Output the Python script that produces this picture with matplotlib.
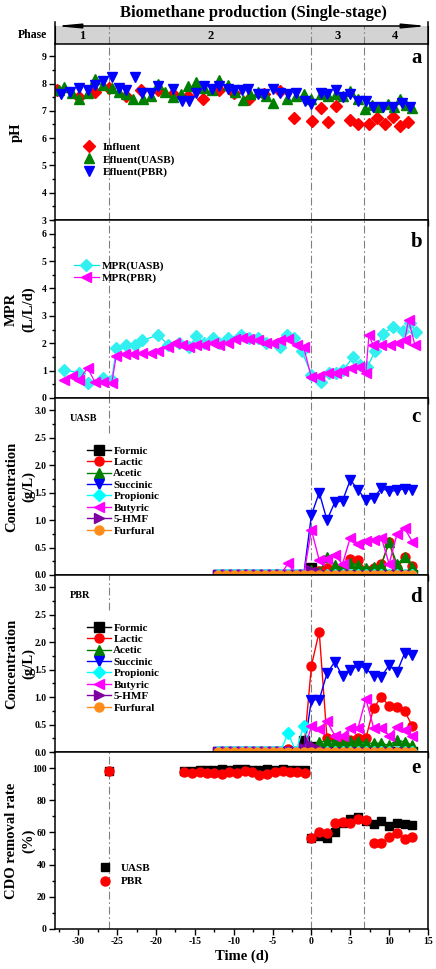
import numpy as np
import matplotlib.pyplot as plt
from matplotlib.ticker import MultipleLocator

plt.rcParams['font.family'] = ['Liberation Serif', 'DejaVu Serif']
plt.rcParams['font.weight'] = 'bold'
plt.rcParams['axes.labelweight'] = 'bold'
plt.rcParams['axes.unicode_minus'] = False

# ---- data ----
phase_bounds = [-26, 0, 6.7]
phase_names = ['1', '2', '3', '4']
phase_centers = [-29.5, -13, 3.35, 10.8]

# pH
ph_inf_day = [-32.8, -29.9, -27.9, -26.0, -23.8, -21.9, -19.7, -17.8, -15.9, -14.0, -11.9, -10.0, -8.0, -6.1,
              -4.0, -2.2, 0.1, 1.2, 2.1, 3.1, 5.0, 6.0, 7.4, 8.4, 9.5, 10.5, 11.4, 12.4]
ph_inf = [7.76, 7.5, 7.7, 7.83, 7.55, 7.75, 7.75, 7.6, 7.55, 7.45, 7.75, 7.65, 7.45, 7.6,
          7.72, 6.75, 6.62, 7.12, 6.6, 7.18, 6.68, 6.52, 6.5, 6.72, 6.5, 6.76, 6.45, 6.6]
ph_uasb_day = [-32.5, -31.8, -30.8, -29.9, -28.8, -27.9, -26.8, -25.7, -24.7, -23.8, -22.9, -21.7, -20.7, -19.7,
               -18.8, -17.8, -16.8, -15.9, -14.9, -13.8, -12.8, -11.9, -10.8, -9.9, -8.8, -7.9, -6.9, -5.9,
               -4.9, -3.1, -2.0, -1.0, 0.0, 1.2, 2.1, 3.1, 4.1, 5.0, 6.0, 6.9, 7.8, 8.6, 9.9, 10.6, 11.4, 12.2, 12.9]
ph_uasb = [7.75, 7.87, 7.65, 7.45, 7.65, 8.15, 7.95, 7.85, 7.7, 7.6, 7.45, 7.45, 7.55, 8.0,
           7.7, 7.5, 7.6, 7.9, 8.05, 7.85, 7.75, 8.12, 7.95, 7.7, 7.4, 7.6, 7.7, 7.55,
           7.3, 7.45, 7.55, 7.6, 7.45, 7.62, 7.55, 7.6, 7.55, 7.72, 7.45, 7.05, 7.2, 7.15, 7.25, 7.15, 7.45, 7.2, 7.1]
ph_pbr_day = [-32.2, -31.1, -29.9, -28.8, -27.9, -26.8, -25.7, -24.7, -23.8, -22.7, -21.8, -20.7, -19.7, -17.8,
              -16.7, -15.8, -14.9, -13.8, -12.8, -11.9, -10.8, -10.0, -8.9, -8.1, -6.9, -6.1, -4.9, -4.1,
              -3.0, -2.0, -0.8, 0.0, 1.2, 2.0, 3.1, 4.1, 5.0, 6.0, 7.0, 7.9, 9.2, 10.5, 11.6, 12.7]
ph_pbr = [7.6, 7.7, 7.85, 7.75, 7.95, 8.1, 8.25, 7.85, 7.75, 8.25, 7.65, 7.65, 7.9, 7.8,
          7.35, 7.35, 7.65, 7.9, 7.8, 7.9, 7.8, 7.75, 7.75, 7.8, 7.6, 7.6, 7.8, 7.65,
          7.6, 7.65, 7.35, 7.25, 7.65, 7.6, 7.75, 7.5, 7.6, 7.35, 7.35, 7.15, 7.15, 7.15, 7.3, 7.15]

# methane production rate
mpr_uasb_day = [-31.9, -29.9, -28.8, -26.8, -25.7, -25.1, -23.8, -22.7, -21.8, -19.7, -18.5, -17.1, -15.8, -14.8,
                -13.8, -12.7, -11.9, -10.8, -9.1, -8.0, -6.9, -5.9, -4.1, -3.1, -2.2, -1.2, 0.0, 1.2, 2.2,
                3.1, 4.1, 5.4, 6.2, 7.2, 8.2, 9.2, 10.5, 11.8, 12.7, 13.5]
mpr_uasb = [1.03, 0.92, 0.55, 0.73, 0.66, 1.83, 1.95, 1.95, 2.1, 2.3, 1.95, 2.0, 1.85, 2.25,
            2.0, 2.2, 2.0, 2.2, 2.3, 2.2, 2.2, 2.0, 1.85, 2.3, 2.2, 1.7, 0.85, 0.6, 0.9,
            0.9, 1.03, 1.5, 1.2, 1.15, 1.7, 2.35, 2.6, 2.45, 2.75, 2.4]
mpr_pbr_day = [-31.9, -30.8, -29.9, -28.8, -27.9, -26.8, -25.7, -25.1, -24.0, -22.9, -21.8, -20.7, -19.7, -18.5,
               -17.6, -16.6, -15.8, -14.8, -13.8, -12.7, -11.9, -10.8, -9.9, -8.9, -8.0, -6.9, -5.9, -4.9,
               -4.0, -3.0, -1.9, -1.0, 0.0, 1.0, 2.1, 3.1, 4.1, 5.1, 6.1, 7.0, 7.4, 7.9, 9.0, 10.1,
               11.1, 12.0, 12.5, 13.3]
mpr_pbr = [0.66, 0.8, 0.66, 1.1, 0.6, 0.6, 0.55, 1.55, 1.6, 1.6, 1.65, 1.65, 1.72, 1.85,
           2.0, 1.95, 1.85, 1.95, 1.95, 2.0, 1.95, 2.0, 2.15, 2.2, 2.15, 2.1, 2.0, 2.0,
           2.1, 2.15, 1.95, 1.85, 0.75, 0.8, 0.9, 0.9, 1.0, 1.1, 1.15, 0.9, 2.3, 1.95, 1.95, 1.95,
           2.0, 2.1, 2.85, 1.95]

# organic acids (g/L), days -12 ... 13
acid_day = [-12, -11, -10, -9, -8, -7, -6, -5, -4, -3, -2, -1, 0, 1, 2, 3, 4, 5, 6, 7, 8, 9, 10, 11, 12, 13]
acid_names = ['Formic', 'Lactic', 'Acetic', 'Succinic', 'Propionic', 'Butyric', '5-HMF', 'Furfural']

formic_c = [0] * 12 + [0.12, 0.05, 0, 0, 0, 0, 0, 0, 0, 0, 0, 0, 0, 0]
lactic_c = [0] * 12 + [0.05, 0.08, 0.12, 0.1, 0.12, 0.3, 0.27, 0.1, 0.12, 0.2, 0.6, 0.12, 0.32, 0.16]
acetic_c = [0] * 12 + [0.1, 0.05, 0.32, 0.18, 0.12, 0.22, 0.18, 0.12, 0.15, 0.18, 0.6, 0.2, 0.32, 0.15]
succinic_c = [0] * 12 + [1.09, 1.5, 1.0, 1.32, 1.35, 1.73, 1.55, 1.36, 1.4, 1.58, 1.52, 1.54, 1.57, 1.55]
propionic_c = [0] * 26
butyric_c = [0] * 9 + [0.21, 0, 0, 0.82, 0.27, 0.3, 0.36, 0.2, 0.68, 0.57, 0.62, 0.64, 0.68, 0.2, 0.74, 0.85, 0.6]
hmf_c = [0] * 12 + [0.1, 0.05] + [0] * 12
furfural_c = [0] * 26

formic_d = [0] * 11 + [0.2, 0.1] + [0] * 13
lactic_d = [0] * 9 + [0.05, 0, 0, 1.57, 2.19, 0.25, 0.25, 0.2, 0.22, 0.25, 0.25, 0.8, 1.0, 0.84, 0.82, 0.74, 0.47]
acetic_d = [0] * 12 + [0.1, 0.18, 0.2, 0.2, 0.15, 0.2, 0.2, 0.16, 0.16, 0.16, 0.12, 0.22, 0.18, 0.12]
succinic_d = [0] * 12 + [0.95, 0.95, 1.43, 1.64, 1.38, 1.49, 1.57, 1.52, 1.38, 1.37, 1.58, 1.45, 1.8, 1.77]
propionic_d = [0] * 9 + [0.35, 0, 0.48] + [0] * 14
butyric_d = [0] * 12 + [0.47, 0.42, 0.56, 0.3, 0.3, 0.44, 0.44, 0.97, 0.44, 0.44, 0.3, 0.45, 0.4, 0.3]
hmf_d = [0] * 11 + [0.08, 0.12, 0.05] + [0] * 12
furfural_d = [0] * 26

# COD removal rate (%)
cod_day = [-26.0, -16.4, -15.4, -14.4, -13.5, -12.5, -11.5, -10.6, -9.6, -8.6, -7.6, -6.7, -5.7, -4.7, -3.7,
           -2.8, -1.8, -0.8, 0, 1, 2, 3, 4, 5, 6, 7, 8, 9, 10, 11, 12, 13]
cod_uasb = [98, 98.5, 98.5, 99, 99, 99, 99.5, 99, 99.5, 99.5, 99, 99, 99.5, 99, 99.5,
            99, 99, 99, 56.5, 57.5, 56.5, 60, 66, 68.5, 69.5, 67, 65.5, 67, 64, 66, 65, 64.5]
cod_pbr = [98, 97.5, 97, 97.5, 97, 97, 96.5, 97.5, 97, 98, 97.5, 96, 96.5, 97.5, 98,
           97.5, 97.5, 97, 56.5, 60.5, 59.5, 66, 66.5, 66, 68.5, 67.5, 53.5, 53.5, 57, 59.5, 56, 57]

acid_colors = ['black', 'red', '#008000', '#0000ff', '#00ffff', '#ff00ff', '#7f00a0', '#ff8c1a']
acid_markers = ['s', 'o', '^', 'v', 'D', '<', '>', 'o']

W, H = 436, 969
fig = plt.figure(figsize=(W / 100, H / 100), dpi=100)


def box(top, bottom):
    return [55 / W, 1 - bottom / H, 373 / W, (bottom - top) / H]


ax_ph = fig.add_axes(box(26, 44))
ax_a = fig.add_axes(box(44, 220))
ax_b = fig.add_axes(box(220, 398))
ax_c = fig.add_axes(box(398, 575))
ax_d = fig.add_axes(box(575, 752))
ax_e = fig.add_axes(box(752, 929))
panels = [ax_a, ax_b, ax_c, ax_d, ax_e]

dash = (0, (7, 2.5, 1.5, 2.5))
ylab_x = -0.052

for ax in panels:
    ax.set_xlim(-33, 15)
    ax.xaxis.set_major_locator(MultipleLocator(5))
    ax.xaxis.set_minor_locator(MultipleLocator(2.5))
    ax.tick_params(which='both', direction='out', top=False, right=False, labelsize=7, width=1, pad=2)
    ax.tick_params(which='major', length=4)
    ax.tick_params(which='minor', length=2)
    for s in ax.spines.values():
        s.set_linewidth(1.1)
    for x in phase_bounds:
        ymin = 0.8 if (ax in (ax_c, ax_d) and x == -26) else 0
        ax.axvline(x, ymin=ymin, color='gray', lw=0.8, ls=dash, zorder=0)
    if ax is not ax_e:
        ax.tick_params(labelbottom=False)

# phase bar
ax_ph.set_xlim(-33, 15)
ax_ph.set_ylim(0, 1)
ax_ph.set_facecolor('#d3d3d3')
ax_ph.set_xticks([])
ax_ph.set_yticks([])
ax_ph.spines['top'].set_visible(False)
for x in phase_bounds:
    ax_ph.axvline(x, color='gray', lw=0.8, ls=dash)
for xc, name in zip(phase_centers, phase_names):
    ax_ph.text(xc, 0.45, name, ha='center', va='center', fontsize=9, fontweight='bold')
ax_ph.annotate('', xy=(-33, 1), xytext=(15, 1),
               arrowprops=dict(arrowstyle='<|-|>,head_length=1.4,head_width=0.13', color='black',
                               lw=1.1, shrinkA=0, shrinkB=0), annotation_clip=False)
for x in (-33, 15):
    ax_ph.plot([x, x], [0, 1.25], color='black', lw=1.1, clip_on=False)
fig.text(0.075, 1 - 35 / H, 'Phase', ha='center', va='center', fontsize=8.5, fontweight='bold')
fig.text(253 / W, 1 - 13 / H, 'Biomethane production (Single-stage)', ha='center', va='center',
         fontsize=12, fontweight='bold')

# a: pH
ax_a.plot(ph_inf_day, ph_inf, 'D', color='red', ms=6, ls='none', label='Influent')
ax_a.plot(ph_uasb_day, ph_uasb, '^', color='#008000', ms=7, ls='none', label='Efluent(UASB)')
ax_a.plot(ph_pbr_day, ph_pbr, 'v', color='#0000ff', ms=7, ls='none', label='Efluent(PBR)')
ax_a.set_ylim(3, 9.45)
ax_a.yaxis.set_major_locator(MultipleLocator(1))
ax_a.yaxis.set_minor_locator(MultipleLocator(0.5))
ax_a.set_ylabel('pH', fontsize=10.5)
ax_a.yaxis.set_label_coords(-0.085, 0.5)
ax_a.legend(loc='upper left', bbox_to_anchor=(0.075, 0.44), frameon=False, fontsize=8,
            handlelength=1.0, handletextpad=0.8, labelspacing=0.2, borderpad=0, borderaxespad=0)

# b: MPR
ax_b.plot(mpr_uasb_day, mpr_uasb, '-D', color='#00e5ee', mfc='#33f0f0', mec='#33f0f0', ms=6.5, lw=0.9,
          label='MPR(UASB)')
ax_b.plot(mpr_pbr_day, mpr_pbr, '-<', color='#ff00ff', ms=7, lw=0.9, label='MPR(PBR)')
ax_b.set_ylim(0, 6.5)
ax_b.yaxis.set_major_locator(MultipleLocator(1))
ax_b.yaxis.set_minor_locator(MultipleLocator(0.5))
ax_b.set_ylabel('MPR\n(L/L/d)', fontsize=10.5, linespacing=1.4)
ax_b.yaxis.set_label_coords(ylab_x, 0.5)
ax_b.legend(loc='upper left', bbox_to_anchor=(0.05, 0.77), frameon=False, fontsize=8,
            handlelength=2.3, handletextpad=0.2, labelspacing=0.2, borderpad=0, borderaxespad=0)

# c, d: organic acids
acid_c = [formic_c, lactic_c, acetic_c, succinic_c, propionic_c, butyric_c, hmf_c, furfural_c]
acid_d = [formic_d, lactic_d, acetic_d, succinic_d, propionic_d, butyric_d, hmf_d, furfural_d]
for ax, series, tag in ((ax_c, acid_c, 'UASB'), (ax_d, acid_d, 'PBR')):
    for vals, name, col, mk in zip(series, acid_names, acid_colors, acid_markers):
        ax.plot(acid_day, vals, '-', marker=mk, color=col, ms=6.5, lw=1.0, label=name)
    ax.set_ylim(0, 3.22)
    ax.yaxis.set_major_locator(MultipleLocator(0.5))
    ax.yaxis.set_minor_locator(MultipleLocator(0.25))
    ax.yaxis.set_major_formatter('{x:.1f}')
    ax.set_ylabel('Concentration\n(g/L)', fontsize=10.5, linespacing=1.4)
    ax.yaxis.set_label_coords(ylab_x, 0.5)
    ax.text(0.04, 0.885, tag, transform=ax.transAxes, fontsize=7.5, fontweight='bold', va='center')
    ax.legend(loc='upper left', bbox_to_anchor=(0.085, 0.73), frameon=False, fontsize=8,
              handlelength=2.2, handletextpad=0.2, labelspacing=0.15, borderpad=0, borderaxespad=0)

# e: COD removal
ax_e.plot(cod_day, cod_uasb, 's', color='black', ms=6, ls='none', label='UASB')
ax_e.plot(cod_day, cod_pbr, 'o', color='red', ms=6.5, ls='none', label='PBR')
ax_e.set_ylim(0, 110)
ax_e.yaxis.set_major_locator(MultipleLocator(20))
ax_e.yaxis.set_minor_locator(MultipleLocator(10))
ax_e.set_ylabel('CDO removal rate\n(%)', fontsize=10.5, linespacing=1.4)
ax_e.yaxis.set_label_coords(ylab_x, 0.5)
ax_e.set_xlabel('Time (d)', fontsize=10.5, labelpad=2)
ax_e.legend(loc='upper left', bbox_to_anchor=(0.12, 0.37), frameon=False, fontsize=8,
            handlelength=1.0, handletextpad=0.9, labelspacing=0.3, borderpad=0, borderaxespad=0)

for ax, letter, yf in zip(panels, 'abcde', [0.92, 0.876, 0.893, 0.876, 0.91]):
    ax.text(0.968, yf, letter, transform=ax.transAxes, ha='center', va='center', fontsize=15,
            fontweight='bold')

for ax in panels:
    for lab in ax.get_xticklabels() + ax.get_yticklabels():
        lab.set_fontweight('bold')

fig.savefig('out.png', dpi=100)
